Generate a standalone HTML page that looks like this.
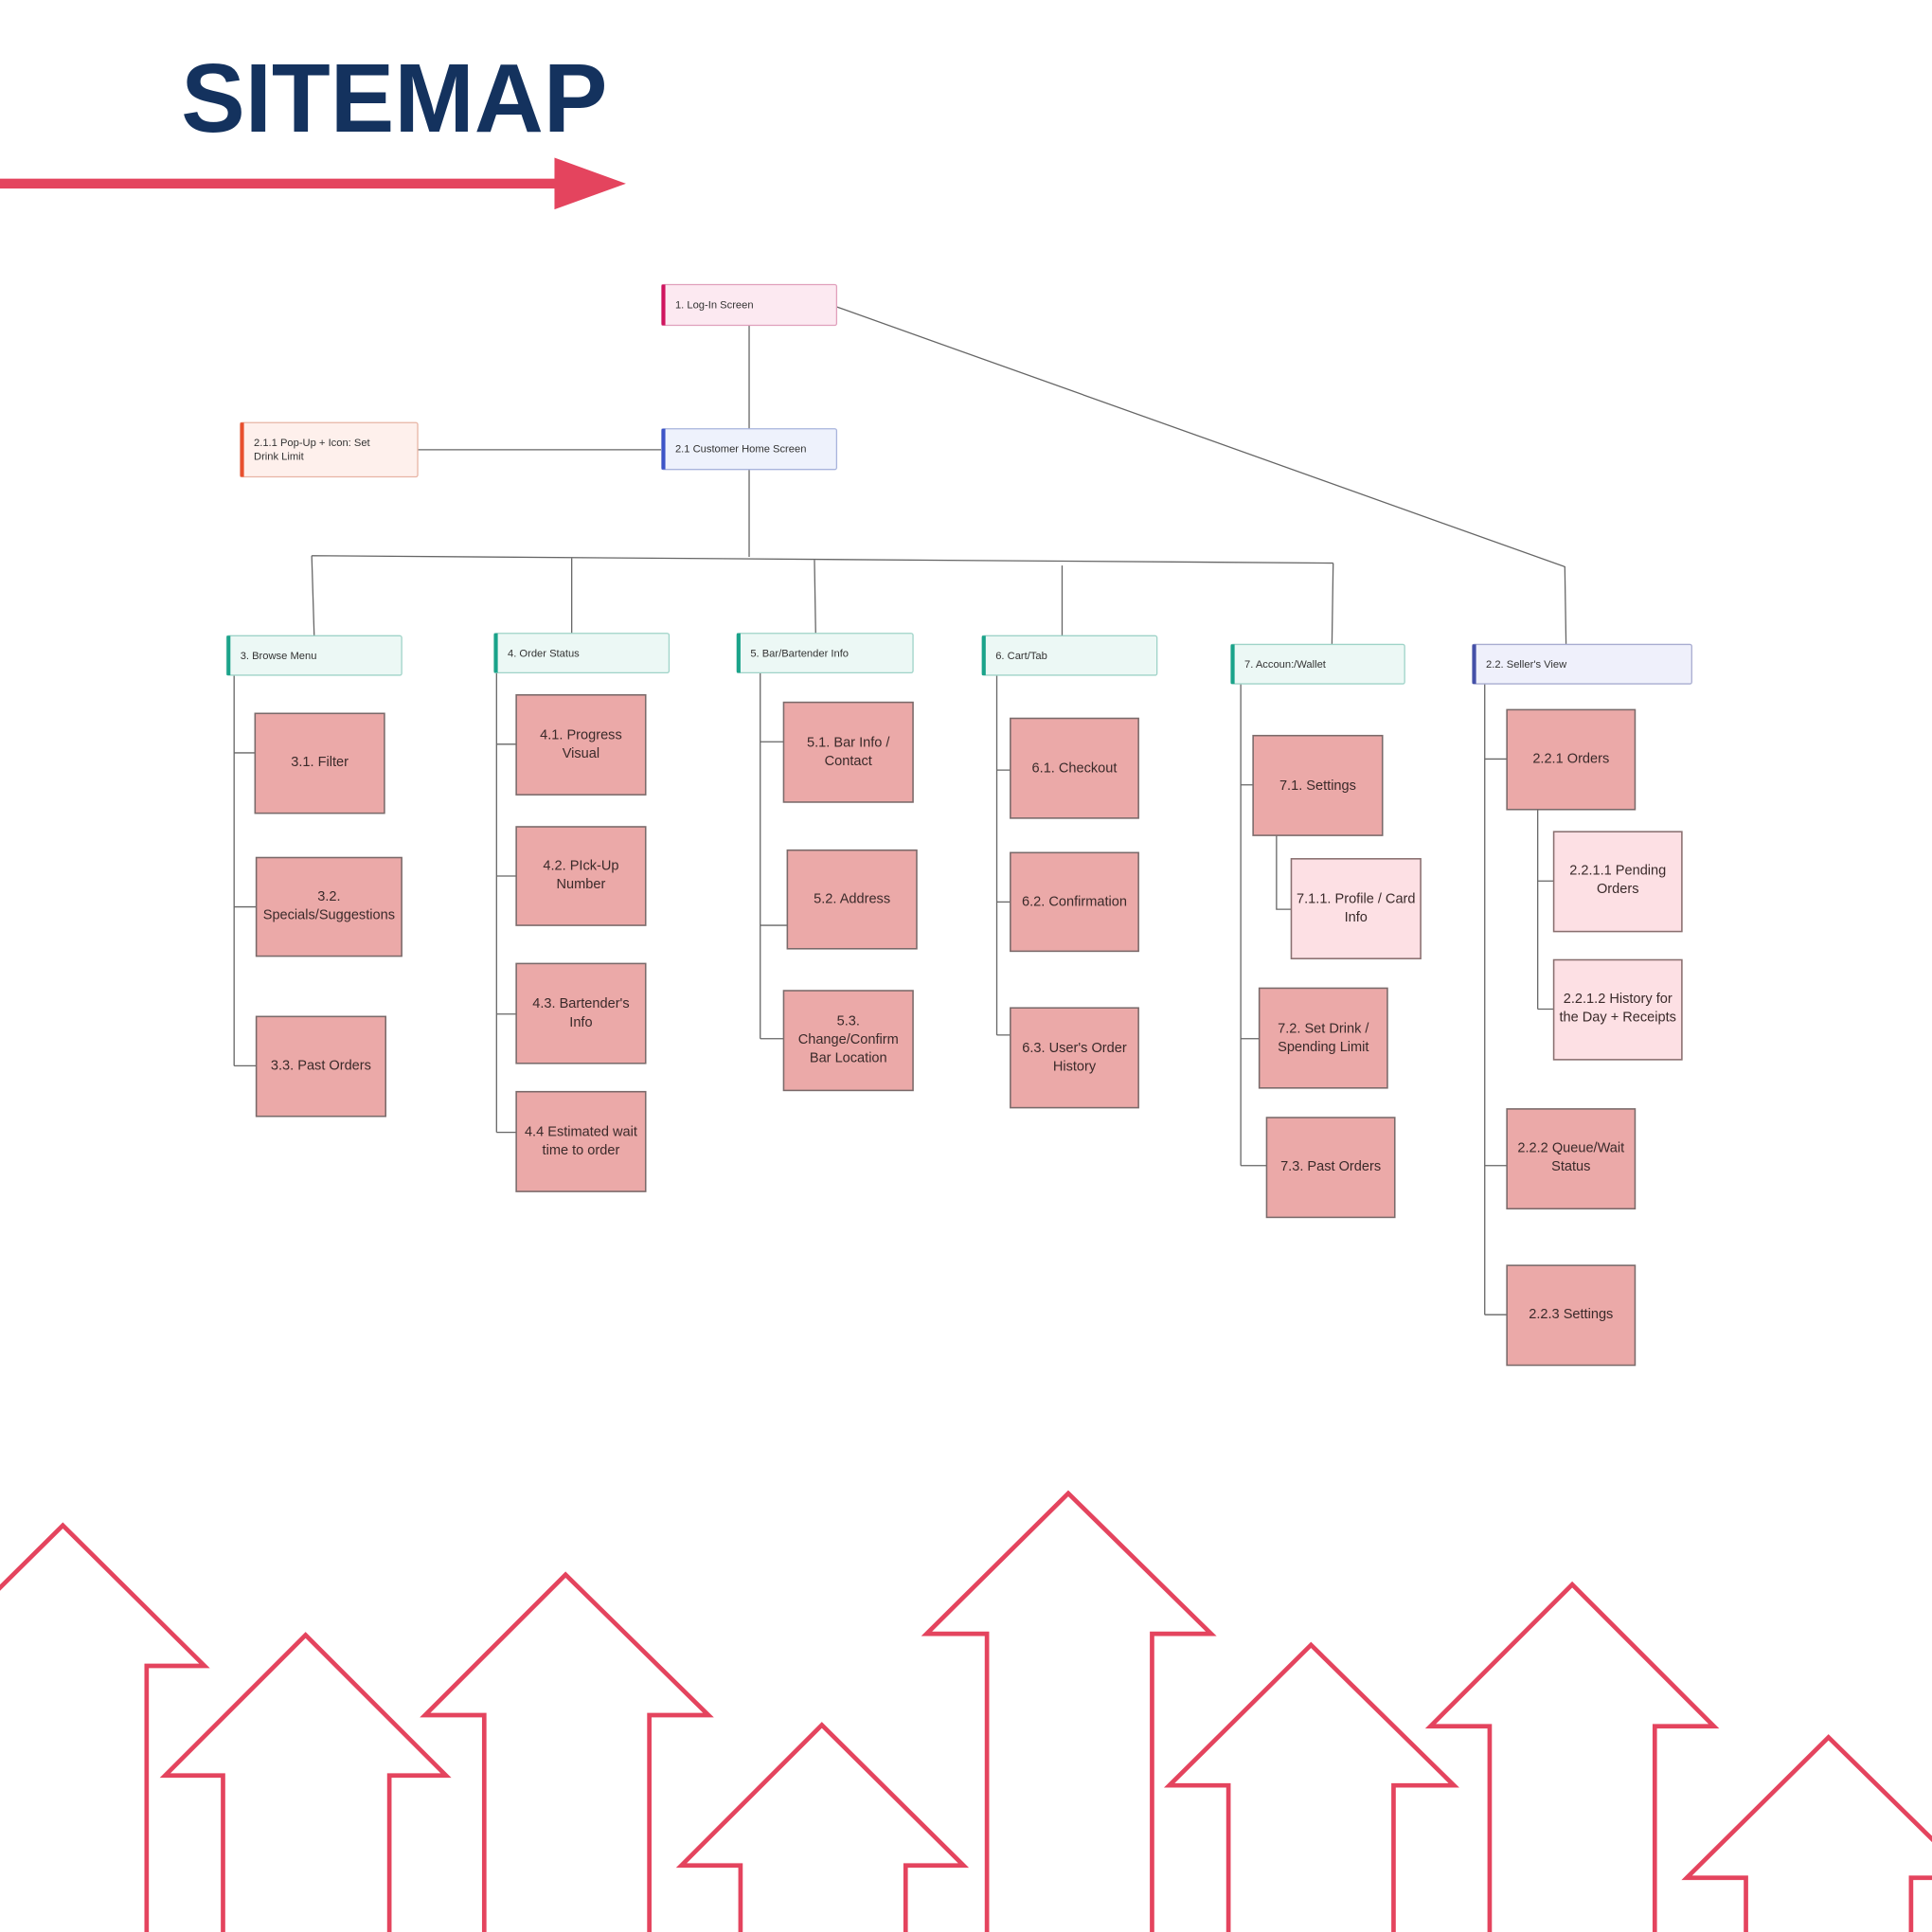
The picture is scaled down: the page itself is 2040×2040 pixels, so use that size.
<!DOCTYPE html>
<html><head><meta charset="utf-8"><style>
html,body{margin:0;padding:0;background:#fff;}
svg{display:block;}
text{font-family:"Liberation Sans","DejaVu Sans",sans-serif;}
.h{font-size:8.6px;fill:#333;}
.c{font-size:11.2px;fill:#3a2a2a;text-anchor:middle;}
.ln{stroke:#666;stroke-width:1;fill:none;}
.bx{fill:#eba9a8;stroke:#7a6a6a;stroke-width:1.2;}
.lb{fill:#fde0e4;stroke:#8a7070;stroke-width:1.2;}
.tl{fill:#ecf8f5;stroke:#9fd3c8;stroke-width:1;}
.ar{fill:none;stroke:#e4445e;stroke-width:3.6;stroke-linejoin:miter;}
</style></head><body>
<svg width="2040" height="2040" viewBox="0 0 1568 1568" xmlns="http://www.w3.org/2000/svg">
<rect width="1568" height="1568" fill="#fff"/>
<text x="147" y="107" font-size="79" font-weight="bold" fill="#14325e" textLength="346" lengthAdjust="spacingAndGlyphs">SITEMAP</text>
<rect x="0" y="145" width="452" height="8" fill="#e4445e"/>
<polygon points="450,128 508,149 450,170" fill="#e4445e"/>

<!-- connectors -->
<path class="ln" d="M608,264V348 M679,249L1270,460L1271,523 M339,365H537 M608,381V452 M253,451L1082,457 M253,451L255,516 M464,453V514 M661,454L662,514 M862,459V516 M1082,457L1081,523"/>
<path class="ln" d="M190,548V865 M190,611H207 M190,736H208 M190,865H208"/>
<path class="ln" d="M403,546V919 M403,604H419 M403,711H419 M403,823H419 M403,919H419"/>
<path class="ln" d="M617,546V843 M617,602H636 M617,751H639 M617,843H636"/>
<path class="ln" d="M809,548V840 M809,625H820 M809,732H820 M809,840H820"/>
<path class="ln" d="M1007,555V946 M1007,637H1017 M1007,843H1022 M1007,946H1028 M1036,678V738H1048"/>
<path class="ln" d="M1205,555V1067 M1205,616H1223 M1205,946H1223 M1205,1067H1223 M1248,657V819 M1248,715H1261 M1248,819H1261"/>

<!-- header nodes -->
<rect x="537" y="231" width="142" height="33" rx="1.5" fill="#fce9f1" stroke="#e0a0bc"/>
<rect x="537" y="231" width="3" height="33" fill="#d0155f"/>
<text class="h" x="548" y="250">1. Log-In Screen</text>

<rect x="537" y="348" width="142" height="33" rx="1.5" fill="#eef2fc" stroke="#a8b4dc"/>
<rect x="537" y="348" width="3" height="33" fill="#3d55c8"/>
<text class="h" x="548" y="367">2.1 Customer Home Screen</text>

<rect x="195" y="343" width="144" height="44" rx="1.5" fill="#fef0ec" stroke="#e8b4a4"/>
<rect x="195" y="343" width="3" height="44" fill="#e8502e"/>
<text class="h" x="206" y="362">2.1.1 Pop-Up + Icon: Set</text>
<text class="h" x="206" y="373">Drink Limit</text>

<rect class="tl" x="184" y="516" width="142" height="32" rx="1.5"/><rect x="184" y="516" width="3" height="32" fill="#1aa38a"/>
<text class="h" x="195" y="535">3. Browse Menu</text>
<rect class="tl" x="401" y="514" width="142" height="32" rx="1.5"/><rect x="401" y="514" width="3" height="32" fill="#1aa38a"/>
<text class="h" x="412" y="533">4. Order Status</text>
<rect class="tl" x="598" y="514" width="143" height="32" rx="1.5"/><rect x="598" y="514" width="3" height="32" fill="#1aa38a"/>
<text class="h" x="609" y="533">5. Bar/Bartender Info</text>
<rect class="tl" x="797" y="516" width="142" height="32" rx="1.5"/><rect x="797" y="516" width="3" height="32" fill="#1aa38a"/>
<text class="h" x="808" y="535">6. Cart/Tab</text>
<rect class="tl" x="999" y="523" width="141" height="32" rx="1.5"/><rect x="999" y="523" width="3" height="32" fill="#1aa38a"/>
<text class="h" x="1010" y="542">7. Accoun:/Wallet</text>
<rect x="1195" y="523" width="178" height="32" rx="1.5" fill="#eff0fb" stroke="#a8acd0"/><rect x="1195" y="523" width="3" height="32" fill="#4450a8"/>
<text class="h" x="1206" y="542">2.2. Seller's View</text>

<!-- child boxes -->
<rect class="bx" x="207" y="579" width="105" height="81"/><text class="c" x="259.5" y="622">3.1. Filter</text>
<rect class="bx" x="208" y="696" width="118" height="80"/><text class="c" x="267" y="731">3.2.</text><text class="c" x="267" y="746">Specials/Suggestions</text>
<rect class="bx" x="208" y="825" width="105" height="81"/><text class="c" x="260.5" y="868">3.3. Past Orders</text>

<rect class="bx" x="419" y="564" width="105" height="81"/><text class="c" x="471.5" y="600">4.1. Progress</text><text class="c" x="471.5" y="615">Visual</text>
<rect class="bx" x="419" y="671" width="105" height="80"/><text class="c" x="471.5" y="706">4.2. PIck-Up</text><text class="c" x="471.5" y="721">Number</text>
<rect class="bx" x="419" y="782" width="105" height="81"/><text class="c" x="471.5" y="818">4.3. Bartender's</text><text class="c" x="471.5" y="833">Info</text>
<rect class="bx" x="419" y="886" width="105" height="81"/><text class="c" x="471.5" y="922">4.4 Estimated wait</text><text class="c" x="471.5" y="937">time to order</text>

<rect class="bx" x="636" y="570" width="105" height="81"/><text class="c" x="688.5" y="606">5.1. Bar Info /</text><text class="c" x="688.5" y="621">Contact</text>
<rect class="bx" x="639" y="690" width="105" height="80"/><text class="c" x="691.5" y="733">5.2. Address</text>
<rect class="bx" x="636" y="804" width="105" height="81"/><text class="c" x="688.5" y="832">5.3.</text><text class="c" x="688.5" y="847">Change/Confirm</text><text class="c" x="688.5" y="862">Bar Location</text>

<rect class="bx" x="820" y="583" width="104" height="81"/><text class="c" x="872" y="627">6.1. Checkout</text>
<rect class="bx" x="820" y="692" width="104" height="80"/><text class="c" x="872" y="735">6.2. Confirmation</text>
<rect class="bx" x="820" y="818" width="104" height="81"/><text class="c" x="872" y="854">6.3. User's Order</text><text class="c" x="872" y="869">History</text>

<rect class="bx" x="1017" y="597" width="105" height="81"/><text class="c" x="1069.5" y="641">7.1. Settings</text>
<rect class="lb" x="1048" y="697" width="105" height="81"/><text class="c" x="1100.5" y="733">7.1.1. Profile / Card</text><text class="c" x="1100.5" y="748">Info</text>
<rect class="bx" x="1022" y="802" width="104" height="81"/><text class="c" x="1074" y="838">7.2. Set Drink /</text><text class="c" x="1074" y="853">Spending Limit</text>
<rect class="bx" x="1028" y="907" width="104" height="81"/><text class="c" x="1080" y="950">7.3. Past Orders</text>

<rect class="bx" x="1223" y="576" width="104" height="81"/><text class="c" x="1275" y="619">2.2.1 Orders</text>
<rect class="lb" x="1261" y="675" width="104" height="81"/><text class="c" x="1313" y="710">2.2.1.1 Pending</text><text class="c" x="1313" y="725">Orders</text>
<rect class="lb" x="1261" y="779" width="104" height="81"/><text class="c" x="1313" y="814">2.2.1.2 History for</text><text class="c" x="1313" y="829">the Day + Receipts</text>
<rect class="bx" x="1223" y="900" width="104" height="81"/><text class="c" x="1275" y="935">2.2.2 Queue/Wait</text><text class="c" x="1275" y="950">Status</text>
<rect class="bx" x="1223" y="1027" width="104" height="81"/><text class="c" x="1275" y="1070">2.2.3 Settings</text>

<!-- arrows -->
<g class="ar">
<path d="M-16,1600V1352H-64L51,1238L166,1352H119V1600"/>
<path d="M181,1600V1441H134L248,1327L362,1441H316V1600"/>
<path d="M393,1600V1392H345L459,1278L575,1392H527V1600"/>
<path d="M601,1600V1514H553L667,1400L782,1514H735V1600"/>
<path d="M801,1600V1326H752L867,1212L983,1326H935V1600"/>
<path d="M997,1600V1449H949L1064,1335L1180,1449H1131V1600"/>
<path d="M1209,1600V1401H1161L1276,1286L1391,1401H1343V1600"/>
<path d="M1417,1600V1524H1369L1484,1410L1600,1524H1551V1600"/>
</g>
</svg>
</body></html>
